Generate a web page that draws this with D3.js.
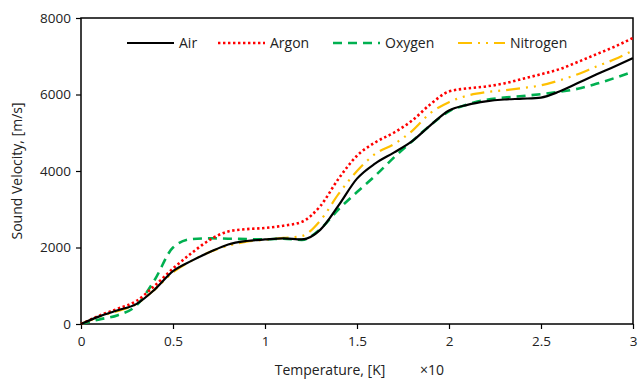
<!DOCTYPE html>
<html>
<head>
<meta charset="utf-8">
<script src="https://cdn.jsdelivr.net/npm/d3@7"></script>
<style>
    body{margin:0;background:#fff;}
    text{font-family:"Open Sans", "DejaVu Sans", sans-serif;fill:#222;}
</style>
</head>
<body>
<div id="chart"></div>
<script>
// temperature (x10 K) samples
let temps = [0,0.1,0.2,0.3,0.4,0.5,0.6,0.7,0.8,0.9,1.0,1.1,1.2,1.3,1.4,1.5,1.6,1.7,1.8,1.9,2.0,2.1,2.2,2.3,2.4,2.5,2.6,2.7,2.8,2.9,3.0];

let air      = [0,200,360,520,900,1380,1650,1880,2080,2170,2210,2240,2210,2460,3100,3800,4200,4480,4780,5200,5580,5730,5820,5870,5890,5920,6080,6300,6520,6730,6950];
let argon    = [0,220,400,600,1000,1450,1850,2200,2420,2480,2510,2570,2670,3080,3800,4400,4750,5000,5320,5750,6080,6160,6210,6290,6410,6530,6660,6850,7050,7250,7480];
let oxygen   = [0,120,230,480,1150,2000,2220,2240,2230,2220,2215,2230,2200,2480,3000,3450,3880,4350,4780,5200,5560,5740,5860,5920,5960,6010,6070,6150,6280,6430,6600];
let nitrogen = [0,190,340,520,900,1350,1650,1880,2050,2150,2200,2250,2300,2700,3400,4000,4450,4700,5050,5520,5800,5970,6060,6110,6170,6240,6370,6530,6730,6920,7150];

let xTicks = [0,0.5,1,1.5,2,2.5,3];
let yTicks = [0,2000,4000,6000,8000];

let series = [
    {name:"Air", values:air, color:"#000000", width:2.2, dash:null},
    {name:"Argon", values:argon, color:"#ff0000", width:2.6, dash:"2.4,2.6"},
    {name:"Oxygen", values:oxygen, color:"#00b050", width:2.6, dash:"9,6"},
    {name:"Nitrogen", values:nitrogen, color:"#ffc000", width:2.2, dash:"14,6,2,6,2,6"}
];

let width = 638, height = 382;
let margin = {left:81, right:5, top:18, bottom:58};
let innerW = width - margin.left - margin.right;
let innerH = height - margin.top - margin.bottom;

let svg = d3.select("#chart")
    .append("svg")
    .attr("width", width)
    .attr("height", height);

let root = svg.append("g")
    .attr("transform", "translate(" + margin.left + "," + margin.top + ")");

let xScale = d3.scaleLinear().domain([0,3]).range([0, innerW]);
let yScale = d3.scaleLinear().domain([0,8000]).range([innerH, 0]);

// frame
root.append("rect")
    .attr("x", 0).attr("y", 0)
    .attr("width", innerW).attr("height", innerH)
    .attr("fill", "none")
    .attr("stroke", "#000")
    .attr("stroke-width", 1.5);

let yAxis = root.append("g")
    .call(d3.axisLeft(yScale).tickValues(yTicks).tickSize(5).tickPadding(5).tickFormat(d3.format("d")));
let xAxis = root.append("g")
    .attr("transform", "translate(0," + innerH + ")")
    .call(d3.axisBottom(xScale).tickValues(xTicks).tickSize(5).tickPadding(7).tickFormat(function(d){ return d; }));

[xAxis, yAxis].forEach(function(a){
    a.select(".domain").remove();
    a.selectAll("line").attr("stroke", "#000").attr("stroke-width", 1.2);
    a.selectAll("text").style("font-size", "13.5px").style("fill", "#222");
});

let line = d3.line()
    .x(function(d){ return xScale(d[0]); })
    .y(function(d){ return yScale(d[1]); })
    .curve(d3.curveMonotoneX);

// draw order: nitrogen, oxygen, argon, air on top
[series[3], series[2], series[1], series[0]].forEach(function(s){
    root.append("path")
        .datum(temps.map(function(t, i){ return [t, s.values[i]]; }))
        .attr("d", line)
        .attr("fill", "none")
        .attr("stroke", s.color)
        .attr("stroke-width", s.width)
        .attr("stroke-dasharray", s.dash);
});

// legend
let legendPos = [127, 218, 333, 458];
let legend = svg.append("g");
series.forEach(function(s, i){
    let g = legend.append("g").attr("transform", "translate(" + legendPos[i] + ",43)");
    g.append("line")
        .attr("x1", 0).attr("x2", 47)
        .attr("y1", 0).attr("y2", 0)
        .attr("stroke", s.color)
        .attr("stroke-width", s.width)
        .attr("stroke-dasharray", s.dash);
    g.append("text")
        .attr("x", 52).attr("y", 5)
        .style("font-size", "14px")
        .text(s.name);
});

// axis titles
svg.append("text")
    .attr("x", 330).attr("y", 375)
    .attr("text-anchor", "middle")
    .style("font-size", "14px")
    .text("Temperature, [K]");
svg.append("text")
    .attr("x", 420).attr("y", 375)
    .style("font-size", "14px")
    .text("×10");
svg.append("text")
    .attr("transform", "translate(22," + (margin.top + innerH / 2) + ") rotate(-90)")
    .attr("text-anchor", "middle")
    .style("font-size", "14px")
    .text("Sound Velocity, [m/s]");
</script>
</body>
</html>
